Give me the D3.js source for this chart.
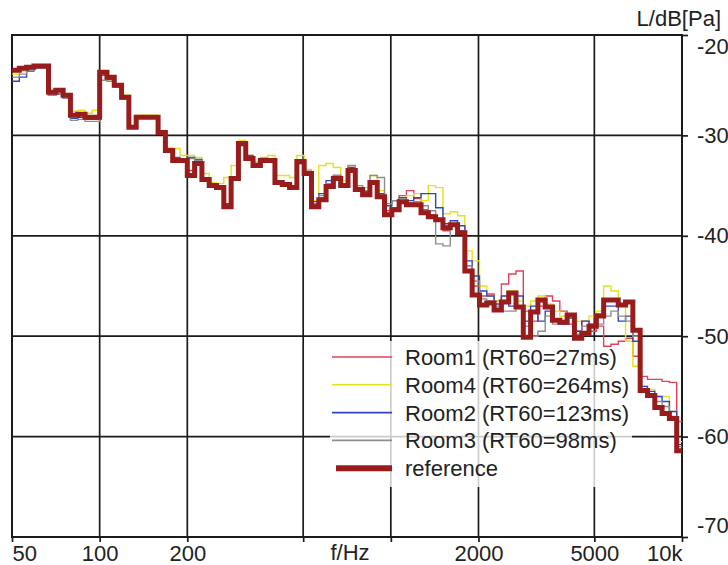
<!DOCTYPE html>
<html>
<head>
<meta charset="utf-8">
<script src="https://cdn.jsdelivr.net/npm/d3@7"></script>
<style>
  body { margin: 0; background: #fff; }
  svg { display: block; font-family: "Liberation Sans", Arial, sans-serif; }
</style>
</head>
<body>
<div id="chart"></div>
<script>
// 1/12-octave bands starting at 50 Hz
const bandStart = 50;
const bandsPerOctave = 12;

const xTicks = [50, 100, 200, 500, 1000, 2000, 5000, 10000];
const xLabels = ["50", "100", "200", "", "", "2000", "5000", "10k"];
const yTicks = [-20, -30, -40, -50, -60, -70];

const seriesNames = ["Room1 (RT60=27ms)", "Room4 (RT60=264ms)", "Room2 (RT60=123ms)", "Room3 (RT60=98ms)", "reference"];

// levels in dB per band
const room1 = [-23.6,-23.4,-23.3,-23.2,-23.2, -25.8,-25.6,-26.1, -28.1,-28.0,-28.3,-28.3,
  -23.8,-24.3,-25.1,-26.3, -29.3,-28.3,-28.3,-28.3, -29.8,-31.4,-32.4,-32.4,
  -33.5,-32.6,-34.3,-34.9,-35.1,-36.9, -34.2,-30.9,-32.2,-32.9,-32.4,-32.4,
  -34.6,-34.8,-35.1,-32.5,-33.7, -36.9,-36.2,-35.0,-34.2,-34.9,-33.4,
  -35.3,-35.7,-34.5,-35.8,-37.5,-37.2, -36.0,-35.5,-36.3,-37.4,-37.9,-38.3,
  -39.5,-38.8,-39.5, -43.0,-45.0,-46.0,-45.8,-46.5, -44.8,-43.8,-43.5,-47.5,-48.5,-47.0,
  -46.0,-46.5,-47.5,-48.8,-49.5,-48.5,-49.5,-49.0, -51.0,-50.8,-50.5,-50.2,-52.0,
  -54.0,-54.3,-54.3,-54.5,-54.6,-58.5];

const room4 = [-23.9,-23.6,-23.4,-23.2,-23.2, -25.5,-25.4,-25.9, -27.6,-27.5,-27.8,-27.5,
  -24.0,-24.6,-25.2,-26.0, -29.0,-28.0,-28.0,-28.0, -29.5,-31.2,-31.3,-32.0,
  -32.0,-32.2,-33.8,-34.7,-34.8,-34.2, -33.0,-30.5,-32.0,-32.6,-32.2,-32.0,
  -34.0,-34.0,-34.2,-32.0,-33.4, -36.5,-33.0,-32.8,-33.2,-34.5,-33.2,
  -35.0,-35.2,-34.0,-35.5,-36.8,-36.5, -36.2,-36.0,-35.8,-36.5,-35.0,-35.2,
  -37.8,-37.6,-38.0, -41.5,-42.5,-45.0,-46.0,-46.5, -46.0,-45.5,-46.5,-47.0,-46.5,-46.0,
  -46.8,-47.5,-48.0,-48.2,-48.5,-48.5,-48.0,-47.5, -45.0,-45.5,-47.0,-50.5,-53.0,
  -55.0,-55.3,-56.0,-56.0,-57.5,-60.5];

const room2 = [-24.6,-24.2,-23.6,-23.3,-23.3, -26.0,-25.9,-26.3, -28.3,-28.2,-28.4,-28.4,
  -24.0,-24.4,-25.2,-26.4, -29.2,-28.3,-28.3,-28.3, -29.8,-31.6,-32.2,-32.4,
  -32.2,-32.4,-34.3,-34.9,-35.1,-36.8, -34.3,-31.0,-32.0,-32.8,-32.3,-32.4,
  -34.5,-34.7,-35.0,-32.8,-33.6, -36.6,-35.8,-34.5,-34.0,-34.8,-33.2,
  -35.2,-35.6,-34.6,-35.8,-37.0,-36.5, -36.2,-36.5,-36.2,-35.8,-35.8,-37.2,
  -38.8,-38.5,-39.0, -42.5,-44.0,-45.5,-46.0,-46.8, -46.0,-47.0,-46.0,-48.5,-47.0,-48.5,
  -47.5,-48.5,-48.8,-48.2,-49.5,-48.5,-48.8,-47.8, -47.0,-47.0,-48.5,-48.0,-50.5,
  -55.0,-55.5,-56.0,-56.5,-57.5,-60.8];

const room3 = [-24.2,-23.9,-23.5,-23.3,-23.3, -26.0,-25.9,-26.3, -28.5,-28.4,-28.6,-28.6,
  -24.5,-24.6,-25.2,-26.4, -29.3,-28.3,-28.3,-28.3, -29.8,-31.6,-32.3,-32.4,
  -32.3,-32.5,-34.3,-34.9,-35.1,-36.9, -34.3,-31.0,-32.1,-32.8,-32.4,-32.4,
  -34.6,-34.7,-35.0,-32.8,-33.6, -36.8,-36.0,-34.8,-34.0,-34.8,-33.0,
  -35.0,-35.5,-34.0,-34.2,-36.8,-36.5, -36.3,-36.7,-36.6,-37.0,-37.5,-40.8,
  -41.0,-39.0,-39.5, -43.0,-44.5,-46.3,-46.5,-47.0, -47.5,-47.5,-47.0,-49.0,-50.0,-49.5,
  -48.0,-48.8,-48.5,-48.0,-49.8,-49.0,-49.0,-48.8, -48.0,-47.5,-48.0,-48.5,-50.0,
  -55.5,-55.8,-56.5,-57.0,-58.0,-61.0];

const reference = [-23.5,-23.3,-23.2,-23.1,-23.1, -25.7,-25.5,-26.0, -28.0,-27.9,-28.2,-28.2,
  -23.7,-24.2,-25.0,-26.2, -29.2,-28.2,-28.2,-28.2, -29.7,-31.5,-32.5,-32.5,
  -34.0,-32.8,-34.4,-35.0,-35.2,-37.1, -34.3,-30.8,-32.3,-33.0,-32.5,-32.5,
  -34.7,-34.9,-35.2,-32.6,-33.8, -37.1,-36.4,-35.1,-34.3,-35.0,-33.5,
  -35.4,-35.9,-34.7,-36.1,-37.9,-37.4, -36.6,-36.9,-36.9,-37.7,-38.1,-38.4,
  -39.2,-38.9,-39.7, -43.5,-45.9,-46.9,-46.7,-47.4, -46.6,-45.7,-47.1,-50.1,-47.6,-46.4,
  -47.1,-48.4,-48.6,-47.9,-50.2,-49.7,-49.0,-48.0, -46.4,-46.4,-46.9,-46.6,-49.4,
  -55.4,-55.9,-57.1,-57.7,-58.2,-61.4];

const seriesData = [room1, room4, room2, room3, reference];
const seriesColors = ["#e5405c", "#e3e31c", "#2f45c4", "#8e8e8e", "#981c1c"];
const seriesWidths = [1.4, 1.4, 1.4, 1.4, 5];

const width = 728, height = 565;
const fontSize = "22px";
const x = d3.scaleLog().domain([50, 10000]).range([12, 682]);
const y = d3.scaleLinear().domain([-70, -20]).range([537, 35]);

const svg = d3.select("#chart").append("svg")
    .attr("width", width)
    .attr("height", height);

svg.append("defs").append("clipPath").attr("id", "plotClip")
    .append("rect")
    .attr("x", x.range()[0]).attr("y", y.range()[1])
    .attr("width", x.range()[1] - x.range()[0])
    .attr("height", y.range()[0] - y.range()[1]);

// grid
const grid = svg.append("g").attr("stroke", "#1b1b1b").attr("stroke-width", 1.7);
grid.selectAll(".vg")
    .data(xTicks.slice(1, -1))
    .enter().append("line")
    .attr("x1", d => x(d)).attr("x2", d => x(d))
    .attr("y1", y.range()[1]).attr("y2", y.range()[0]);
grid.selectAll(".hg")
    .data(yTicks.slice(1, -1))
    .enter().append("line")
    .attr("x1", x.range()[0]).attr("x2", x.range()[1])
    .attr("y1", d => y(d)).attr("y2", d => y(d));

// frame
svg.append("rect")
    .attr("x", x.range()[0]).attr("y", y.range()[1])
    .attr("width", x.range()[1] - x.range()[0])
    .attr("height", y.range()[0] - y.range()[1])
    .attr("fill", "none").attr("stroke", "#1b1b1b").attr("stroke-width", 2);

// bottom axis
const xAxis = svg.append("g")
    .attr("transform", `translate(0,${y.range()[0]})`)
    .call(d3.axisBottom(x).tickValues(xTicks).tickSize(5).tickPadding(3)
        .tickFormat((d, i) => xLabels[i]));
xAxis.select(".domain").remove();
xAxis.attr("font-family", null);
xAxis.selectAll("line").attr("stroke", "#1b1b1b").attr("stroke-width", 1.7);
xAxis.selectAll("text")
    .style("font-size", fontSize)
    .attr("fill", "#222")
    .attr("text-anchor", (d, i) => i === 0 ? "start" : (i === xTicks.length - 1 ? "end" : "middle"));

svg.append("text")
    .attr("x", 350).attr("y", 560)
    .attr("text-anchor", "middle")
    .style("font-size", fontSize)
    .attr("fill", "#222")
    .text("f/Hz");

// right axis (plain hyphen minus as in the original)
const yAxis = svg.append("g")
    .attr("transform", `translate(${x.range()[1]},0)`)
    .call(d3.axisRight(y).tickValues(yTicks).tickSize(6).tickPadding(9)
        .tickFormat(d => String(d)));
yAxis.select(".domain").remove();
yAxis.attr("font-family", null);
yAxis.selectAll("line").attr("stroke", "#1b1b1b").attr("stroke-width", 1.7);
yAxis.selectAll("text")
    .style("font-size", fontSize)
    .attr("fill", "#222")
    .attr("y", d => d === -20 ? 11 : (d === -70 ? -12 : 0));

svg.append("text")
    .attr("x", 721).attr("y", 26)
    .attr("text-anchor", "end")
    .style("font-size", fontSize)
    .attr("fill", "#222")
    .text("L/dB[Pa]");

// legend background (semi transparent, grid shows through)
const legX = 330, legY = 341, legW = 302, legH = 146;
svg.append("rect")
    .attr("x", legX).attr("y", legY)
    .attr("width", legW).attr("height", legH)
    .attr("fill", "#fff").attr("fill-opacity", 0.78);

// step curves
function stepPoints(values) {
    const pts = [];
    values.forEach((v, k) => {
        const f0 = bandStart * Math.pow(2, k / bandsPerOctave);
        const f1 = bandStart * Math.pow(2, (k + 1) / bandsPerOctave);
        pts.push([f0, v], [f1, v]);
    });
    return pts;
}

const line = d3.line()
    .x(d => x(d[0]))
    .y(d => y(d[1]));

const curves = svg.append("g").attr("clip-path", "url(#plotClip)");
curves.selectAll("path")
    .data(seriesData)
    .enter().append("path")
    .attr("d", d => line(stepPoints(d)))
    .attr("fill", "none")
    .attr("stroke", (d, i) => seriesColors[i])
    .attr("stroke-width", (d, i) => seriesWidths[i])
    .attr("stroke-linejoin", "miter");

// legend
const legend = svg.append("g");
const rowH = 27.8;
const rows = legend.selectAll("g")
    .data(seriesNames)
    .enter().append("g")
    .attr("transform", (d, i) => `translate(${legX + 2},${357 + i * rowH})`);
rows.append("line")
    .attr("x1", (d, i) => i === 4 ? 4 : 0).attr("x2", 60)
    .attr("stroke", (d, i) => seriesColors[i])
    .attr("stroke-width", (d, i) => i === 4 ? 6 : 1.6);
rows.append("text")
    .attr("x", 73).attr("dy", "0.36em")
    .style("font-size", fontSize)
    .attr("fill", "#222")
    .text(d => d);
</script>
</body>
</html>
